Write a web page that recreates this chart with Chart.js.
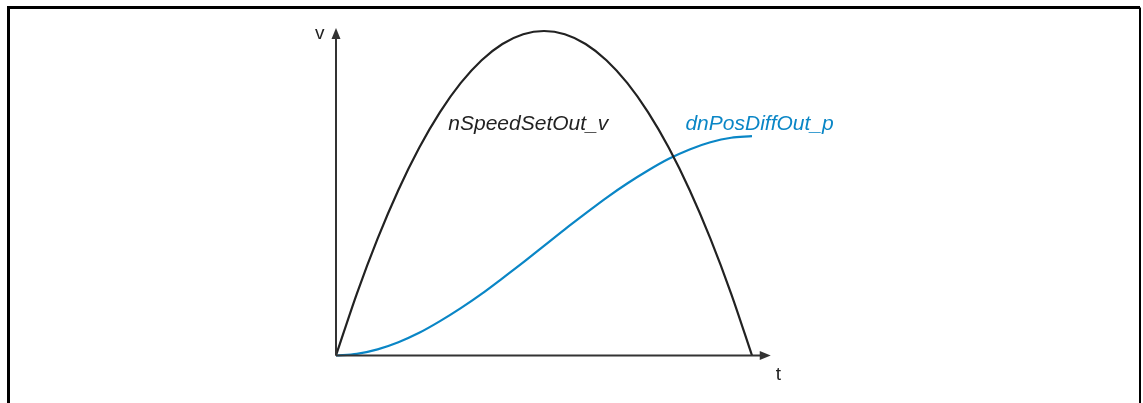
<!DOCTYPE html>
<html>
<head>
<meta charset="utf-8">
<script src="https://cdn.jsdelivr.net/npm/chart.js@4.4.0/dist/chart.umd.min.js"></script>
<style>
  html, body { margin: 0; padding: 0; background: #fff; }
  canvas { display: block; }
</style>
</head>
<body>
<canvas id="chart" width="1143" height="403"></canvas>
<script>
// time samples (t axis, arbitrary units)
const timeValues = [0, 0.5, 1, 1.5, 2, 2.5, 3, 3.5, 4, 4.5, 5, 5.5, 6, 6.5, 7, 7.5, 8, 8.5, 9, 9.5, 10];
// speed setpoint (peak = 100)
const speedValues = [0, 19, 36, 51, 64, 75, 84, 91, 96, 99, 100, 99, 96, 91, 84, 75, 64, 51, 36, 19, 0];
// position difference (runs a little past t = 10)
const posTimes = [0, 0.5, 1, 1.5, 2, 2.5, 3, 3.5, 4, 4.5, 5, 5.5, 6, 6.5, 7, 7.5, 8, 8.5, 9, 9.5, 10, 10.08];
const posValues = [0, 0.5, 1.9, 4.1, 7.0, 10.6, 14.6, 19.0, 23.8, 28.7, 33.8, 38.9, 43.8, 48.6, 53.0, 57.0, 60.6, 63.5, 65.7, 67.1, 67.6, 67.7];

const seriesNames = ['nSpeedSetOut_v', 'dnPosDiffOut_p'];
const seriesColors = ['#222222', '#0a86c6'];
// where the series names sit, in data units [t, v]
const labelPositions = [[2.7, 69.4], [8.4, 69.4]];
const axisNames = ['t', 'v'];

const toPoints = (xs, ys) => ys.map((y, i) => ({ x: xs[i], y: y }));

const diagramPlugin = {
    id: 'diagram',
    beforeDraw(chart) {
        const ctx = chart.ctx;
        ctx.save();
        ctx.fillStyle = '#fff';
        ctx.fillRect(0, 0, chart.width, chart.height);
        // frame
        ctx.strokeStyle = '#000';
        ctx.lineWidth = 3;
        ctx.beginPath();
        ctx.moveTo(8.5, chart.height);
        ctx.lineTo(8.5, 7.5);
        ctx.lineTo(1140, 7.5);
        ctx.stroke();
        ctx.lineWidth = 2;
        ctx.beginPath();
        ctx.moveTo(1140, 7.5);
        ctx.lineTo(1140, chart.height);
        ctx.stroke();
        ctx.restore();
    },
    afterDatasetsDraw(chart) {
        const ctx = chart.ctx;
        const xs = chart.scales.x, ys = chart.scales.y;
        const ox = xs.getPixelForValue(0);
        const oy = ys.getPixelForValue(0);
        const xEnd = xs.getPixelForValue(10.45);
        const yEnd = ys.getPixelForValue(100.9);

        ctx.save();
        ctx.strokeStyle = '#333';
        ctx.fillStyle = '#333';
        ctx.lineWidth = 2;
        ctx.beginPath();
        ctx.moveTo(ox, oy);
        ctx.lineTo(xEnd - 8, oy);
        ctx.moveTo(ox, oy);
        ctx.lineTo(ox, yEnd + 8);
        ctx.stroke();
        // arrow heads
        ctx.beginPath();
        ctx.moveTo(xEnd, oy);
        ctx.lineTo(xEnd - 11, oy - 4.5);
        ctx.lineTo(xEnd - 11, oy + 4.5);
        ctx.closePath();
        ctx.fill();
        ctx.beginPath();
        ctx.moveTo(ox, yEnd);
        ctx.lineTo(ox - 4.5, yEnd + 11);
        ctx.lineTo(ox + 4.5, yEnd + 11);
        ctx.closePath();
        ctx.fill();

        // axis names
        ctx.font = '19px "Liberation Sans", Arial, sans-serif';
        ctx.fillStyle = '#222';
        ctx.textBaseline = 'alphabetic';
        ctx.textAlign = 'left';
        ctx.fillText(axisNames[0], xEnd + 5, oy + 24);
        ctx.fillText(axisNames[1], ox - 21, yEnd + 11);

        // series names
        ctx.font = 'italic 21px "Liberation Sans", Arial, sans-serif';
        seriesNames.forEach((name, i) => {
            ctx.fillStyle = seriesColors[i];
            ctx.fillText(name, xs.getPixelForValue(labelPositions[i][0]), ys.getPixelForValue(labelPositions[i][1]));
        });
        ctx.restore();
    }
};

new Chart(document.getElementById('chart').getContext('2d'), {
    type: 'line',
    data: {
        datasets: [
            { label: seriesNames[0], data: toPoints(timeValues, speedValues), borderColor: seriesColors[0], borderWidth: 2.2, pointRadius: 0, cubicInterpolationMode: 'monotone', clip: 10 },
            { label: seriesNames[1], data: toPoints(posTimes, posValues), borderColor: seriesColors[1], borderWidth: 2.2, pointRadius: 0, cubicInterpolationMode: 'monotone', clip: 10 }
        ]
    },
    options: {
        responsive: false,
        animation: false,
        events: [],
        layout: { padding: { left: 336, right: 391, top: 31, bottom: 47.5 } },
        scales: {
            x: { type: 'linear', min: 0, max: 10, display: false },
            y: { min: 0, max: 100, display: false }
        },
        plugins: {
            legend: { display: false },
            tooltip: { enabled: false }
        }
    },
    plugins: [diagramPlugin]
});
</script>
</body>
</html>
